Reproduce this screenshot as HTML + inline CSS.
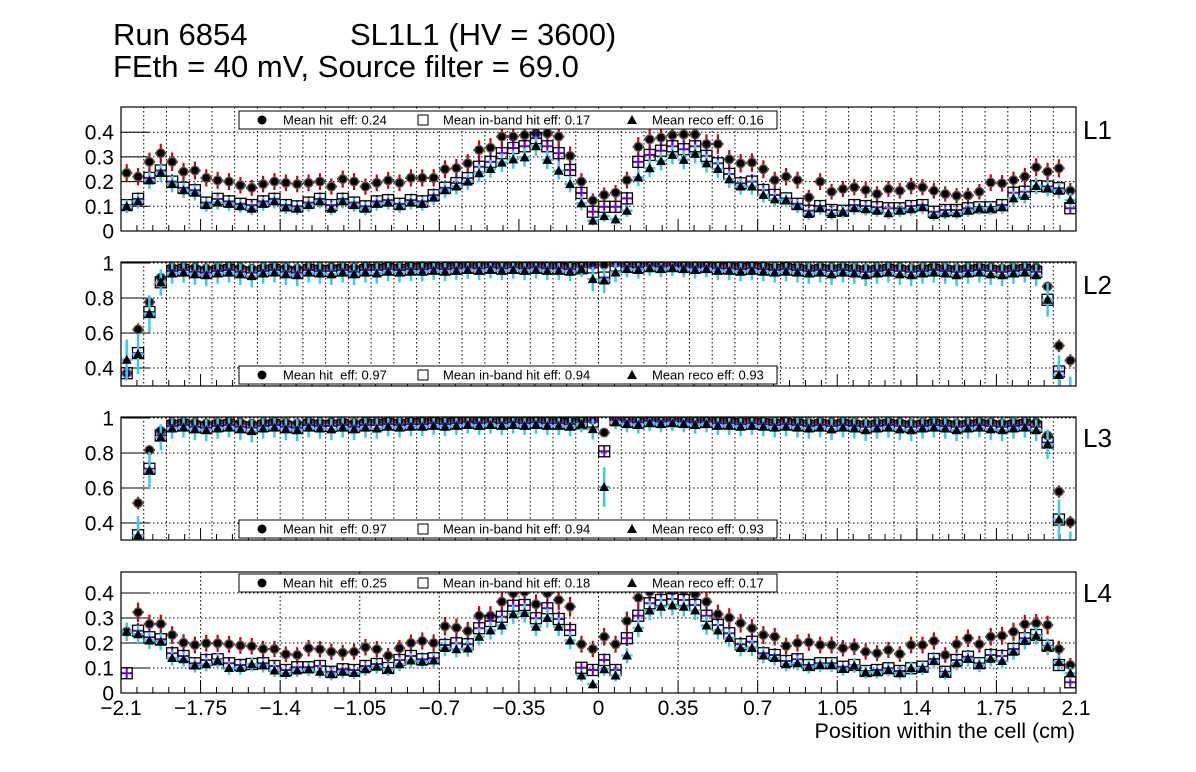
<!DOCTYPE html>
<html><head><meta charset="utf-8"><style>
body{margin:0;background:#fff}
svg{display:block;font-family:"Liberation Sans",Arial,sans-serif}
text{white-space:pre}
</style></head><body>
<svg id="c" width="1196" height="772" viewBox="0 0 1196 772">
<text x="113" y="45" font-size="31">Run 6854</text>
<text x="350" y="45" font-size="31">SL1L1 (HV = 3600)</text>
<text x="113" y="77" font-size="31">FEth = 40 mV, Source filter = 69.0</text>
<text x="1075" y="738" font-size="21.5" text-anchor="end">Position within the cell (cm)</text>
</svg>
<script>
const xTickLabels=["\u22122.1","\u22121.75","\u22121.4","\u22121.05","\u22120.7","\u22120.35","0","0.35","0.7","1.05","1.4","1.75","2.1"];
const xTickValues=[-2.1,-1.75,-1.4,-1.05,-0.7,-0.35,0,0.35,0.7,1.05,1.4,1.75,2.1];
const layerNames=["L1","L2","L3","L4"];
const meanHit=["0.24","0.97","0.97","0.25"];
const meanInband=["0.17","0.94","0.94","0.18"];
const meanReco=["0.16","0.93","0.93","0.17"];
const p1Hit=[.235,.22,.28,.315,.28,.24,.245,.215,.205,.2,.185,.175,.19,.2,.195,.19,.195,.2,.18,.21,.2,.18,.195,.205,.195,.215,.215,.215,.25,.255,.274,.328,.337,.382,.382,.388,.395,.395,.382,.304,.2,.123,.146,.155,.206,.341,.371,.378,.388,.391,.391,.352,.352,.29,.274,.277,.25,.206,.22,.206,.136,.2,.159,.17,.177,.166,.15,.17,.163,.182,.177,.163,.15,.143,.144,.159,.196,.193,.206,.22,.258,.24,.254,.163];
const p1Inband=[.105,.13,.215,.245,.2,.175,.165,.115,.13,.12,.11,.105,.12,.13,.105,.1,.115,.13,.105,.13,.115,.1,.12,.125,.11,.125,.12,.145,.175,.194,.214,.26,.28,.315,.336,.343,.376,.343,.315,.247,.154,.078,.098,.098,.132,.28,.308,.325,.343,.331,.343,.304,.274,.231,.193,.2,.166,.146,.132,.11,.082,.101,.085,.082,.105,.101,.096,.092,.092,.101,.105,.078,.085,.085,.092,.096,.096,.105,.155,.159,.182,.18,.173,.092];
const p1Reco=[.1,.12,.205,.235,.19,.165,.155,.105,.115,.11,.1,.09,.11,.12,.095,.09,.105,.12,.09,.12,.105,.09,.11,.115,.1,.115,.11,.135,.165,.18,.2,.234,.251,.277,.29,.298,.343,.288,.244,.19,.112,.042,.06,.047,.082,.217,.254,.283,.308,.288,.312,.274,.251,.209,.18,.18,.146,.128,.125,.1,.069,.092,.069,.078,.092,.088,.082,.072,.082,.088,.096,.065,.072,.072,.082,.092,.092,.096,.132,.142,.182,.173,.163,.125];
const p2Hit=[.37,.62,.777,.917,.975,.98,.975,.97,.975,.98,.975,.968,.975,.98,.975,.97,.98,.975,.978,.98,.975,.982,.98,.985,.98,.985,.985,.99,.985,.99,.99,.99,.995,.99,.995,.99,.995,.99,.99,.985,.99,.99,.99,1.0,.995,.995,1.0,.995,1.0,.995,.99,.995,.99,.99,.985,.99,.985,.98,.985,.98,.975,.98,.975,.98,.975,.97,.975,.98,.975,.97,.975,.98,.975,.97,.975,.98,.975,.97,.975,.98,.975,.866,.527,.443];
const p2Inband=[.37,.485,.72,.89,.955,.96,.95,.945,.955,.96,.95,.945,.955,.96,.95,.945,.96,.955,.955,.96,.95,.96,.96,.965,.96,.965,.965,.97,.965,.97,.975,.97,.975,.97,.975,.97,.975,.97,.97,.965,.97,.975,.917,.985,.98,.975,.985,.98,.985,.98,.975,.98,.97,.97,.965,.97,.965,.96,.965,.96,.955,.96,.955,.96,.955,.95,.955,.96,.955,.95,.955,.96,.955,.95,.955,.96,.955,.95,.955,.96,.95,.79,.38,.25];
const p2Reco=[.447,.48,.71,.889,.94,.945,.935,.93,.94,.945,.935,.925,.94,.945,.935,.93,.945,.94,.935,.945,.935,.945,.94,.95,.945,.95,.95,.955,.95,.955,.96,.955,.96,.955,.96,.955,.96,.955,.955,.95,.965,.908,.9,.946,.965,.96,.97,.965,.97,.965,.96,.965,.955,.955,.95,.955,.95,.945,.95,.945,.94,.945,.935,.945,.94,.93,.94,.945,.935,.93,.94,.945,.94,.93,.94,.945,.935,.93,.94,.945,.93,.79,.36,.25];
const p3Hit=[.25,.514,.817,.927,.975,.98,.975,.97,.975,.98,.975,.968,.975,.98,.975,.97,.98,.975,.978,.98,.975,.982,.98,.985,.98,.985,.985,.99,.985,.99,.99,.99,.995,.99,.995,.99,.995,.99,.99,.985,.99,.99,.917,1.0,.995,.995,1.0,.995,1.0,.995,.99,.995,.99,.99,.985,.99,.985,.98,.985,.98,.975,.98,.975,.98,.975,.97,.975,.98,.975,.97,.975,.98,.975,.97,.975,.98,.975,.97,.975,.98,.975,.9,.58,.405];
const p3Inband=[.2,.33,.71,.9,.955,.96,.95,.945,.955,.96,.95,.945,.955,.96,.95,.945,.96,.955,.955,.96,.95,.96,.96,.965,.96,.965,.965,.97,.965,.97,.975,.97,.975,.97,.975,.97,.975,.97,.97,.965,.97,.98,.81,.99,.98,.975,.985,.98,.985,.98,.975,.98,.97,.97,.965,.97,.965,.96,.965,.96,.955,.96,.955,.96,.955,.95,.955,.96,.955,.95,.955,.96,.955,.95,.955,.96,.955,.95,.955,.96,.95,.86,.42,.25];
const p3Reco=[.2,.33,.70,.89,.94,.945,.935,.93,.94,.945,.935,.925,.94,.945,.935,.93,.945,.94,.935,.945,.935,.945,.94,.95,.945,.95,.95,.955,.95,.955,.96,.955,.96,.955,.96,.955,.96,.955,.955,.95,.965,.937,.606,.975,.965,.96,.97,.965,.97,.965,.96,.965,.955,.955,.95,.955,.95,.945,.95,.945,.94,.945,.935,.945,.94,.93,.94,.945,.935,.93,.94,.945,.94,.93,.94,.945,.935,.93,.94,.945,.93,.85,.42,.25];
const p4Hit=[.245,.323,.276,.276,.232,.201,.192,.199,.199,.195,.19,.187,.176,.176,.155,.152,.179,.175,.165,.161,.165,.183,.175,.149,.179,.2,.208,.2,.267,.261,.248,.309,.309,.365,.399,.405,.355,.399,.372,.345,.195,.176,.225,.195,.288,.381,.405,.417,.41,.41,.395,.365,.315,.301,.279,.259,.232,.225,.188,.2,.203,.192,.192,.179,.185,.165,.159,.172,.156,.192,.192,.208,.152,.195,.219,.195,.225,.229,.245,.275,.279,.272,.176,.112];
const p4Inband=[.079,.249,.223,.215,.159,.148,.119,.132,.135,.119,.112,.116,.119,.108,.092,.103,.103,.108,.085,.095,.092,.108,.116,.1,.132,.148,.135,.139,.192,.199,.195,.259,.288,.305,.349,.352,.299,.339,.296,.252,.101,.092,.132,.092,.219,.309,.359,.372,.376,.372,.352,.309,.272,.239,.195,.205,.159,.152,.128,.135,.112,.119,.119,.105,.112,.088,.092,.099,.088,.099,.105,.136,.085,.132,.145,.119,.152,.148,.176,.219,.232,.189,.112,.043];
const p4Reco=[.245,.235,.21,.205,.14,.135,.11,.115,.13,.1,.1,.115,.11,.09,.08,.09,.095,.085,.075,.085,.08,.095,.105,.095,.115,.13,.125,.13,.18,.175,.178,.225,.25,.27,.315,.32,.265,.3,.265,.21,.07,.035,.095,.07,.15,.26,.33,.345,.35,.345,.33,.27,.25,.22,.18,.18,.15,.14,.115,.119,.105,.112,.112,.096,.109,.083,.083,.092,.079,.099,.099,.128,.079,.119,.137,.112,.137,.128,.165,.208,.229,.185,.123,.079];
const hitSeries=[p1Hit,p2Hit,p3Hit,p4Hit];
const inbandSeries=[p1Inband,p2Inband,p3Inband,p4Inband];
const recoSeries=[p1Reco,p2Reco,p3Reco,p4Reco];
const yTickLabels=[["0","0.1","0.2","0.3","0.4"],["0.4","0.6","0.8","1"],["0.4","0.6","0.8","1"],["0","0.1","0.2","0.3","0.4"]];
const yTickValues=[[0,0.1,0.2,0.3,0.4],[0.4,0.6,0.8,1],[0.4,0.6,0.8,1],[0,0.1,0.2,0.3,0.4]];

const NS="http://www.w3.org/2000/svg";
const svg=document.getElementById('c');
const X0=121,X1=1076,XMIN=-2.1,XMAX=2.1,NB=84,BW=(XMAX-XMIN)/NB;
function xPix(v){return X0+(v-XMIN)/(XMAX-XMIN)*(X1-X0);}
const panels=[
 {top:107,bot:231,ymin:0,ymax:0.502,grid:0.1,leg:111,lab:139,k:[0.07,0.06,0.07]},
 {top:262,bot:386,ymin:0.297,ymax:1.006,grid:0.1,leg:366,lab:294,k:[0.06,0.07,0.22]},
 {top:417,bot:540,ymin:0.303,ymax:1.006,grid:0.1,leg:520,lab:447,k:[0.06,0.07,0.22]},
 {top:572,bot:693,ymin:0,ymax:0.484,grid:0.35,leg:574,lab:602,k:[0.07,0.06,0.07]}
];
function mk(tag,attrs,parent){const e=document.createElementNS(NS,tag);for(const a in attrs)e.setAttribute(a,attrs[a]);(parent||svg).appendChild(e);return e;}
const defs=mk('defs',{});
panels.forEach((P,pi)=>{
 const yPix=v=>P.bot-(v-P.ymin)/(P.ymax-P.ymin)*(P.bot-P.top);
 const cp=mk('clipPath',{id:'cp'+pi},defs);
 mk('rect',{x:X0,y:P.top,width:X1-X0,height:P.bot-P.top},cp);
 const g=mk('g',{});
 
 
 const gg=mk('g',{stroke:'#000','stroke-width':1,'stroke-dasharray':'1.5,2.5'},g);
 
 
 const start=P.grid===0.1?-2.0:-1.75;
 for(let v=start;v<2.09;v+=P.grid){const x=xPix(v);mk('line',{x1:x,x2:x,y1:P.top,y2:P.bot},gg);}
 yTickValues[pi].forEach(v=>{const y=yPix(v);if(y>P.top+1&&y<P.bot-1)mk('line',{x1:X0,x2:X1,y1:y,y2:y},gg);});
 yTickValues[pi].forEach((v,j)=>{
  const y=yPix(v);
  mk('line',{x1:X0,x2:X0+28,y1:y,y2:y,stroke:'#000','stroke-width':1},g);
  const t=mk('text',{x:114,y:y+7.5,'font-size':21,'text-anchor':'end'},g);
  t.textContent=yTickLabels[pi][j];
  
  
 });
 for(let v=-2.1;v<=2.101;v+=0.07){const x=xPix(v);const maj=Math.abs(Math.round(v/0.35)*0.35-v)<1e-6;mk('line',{x1:x,x2:x,y1:P.bot,y2:P.bot-(maj?12:6),stroke:'#000'},g);}
 const mg=mk('g',{'clip-path':'url(#cp'+pi+')'},g);
 const H=hitSeries[pi],I=inbandSeries[pi],R=recoSeries[pi];
 function errs(arr,k,col,w){
  const eg=mk('g',{stroke:col,'stroke-width':w},mg);
  
  
  arr.forEach((p,i)=>{const c=XMIN+BW*(i+0.5);const e=k*Math.sqrt(Math.max(p*(1-p),0.003))+0.006;
   const x=xPix(c),y=yPix(p);
   mk('line',{x1:x,x2:x,y1:yPix(Math.max(p-e,0)),y2:yPix(Math.min(p+e,1))},eg);
   mk('line',{x1:xPix(c-BW/2),x2:xPix(c+BW/2),y1:y,y2:y},eg);});
 }
 errs(H,P.k[0],'#d40000',2.2);
 const hg=mk('g',{},mg);
 
 
 H.forEach((p,i)=>{const c=mk('circle',{cx:xPix(XMIN+BW*(i+0.5)),cy:yPix(p),r:4.3,fill:'#000',stroke:'#555','stroke-width':1.4},hg);
  
  });
 errs(I,P.k[1],'#6a00cc',2);
 const ig=mk('g',{},mg);
 
 
 I.forEach((p,i)=>{const x=xPix(XMIN+BW*(i+0.5)),y=yPix(p);const r=mk('rect',{x:x-5.5,y:y-5.5,width:11,height:11,fill:'none',stroke:'#000','stroke-width':1.3},ig);
  
  });
 errs(R,P.k[2],'#33ccf5',2.5);
 const rg=mk('g',{},mg);
 
 
 R.forEach((p,i)=>{const x=xPix(XMIN+BW*(i+0.5)),y=yPix(p);const t=mk('polygon',{points:`${x-5},${y+4} ${x+5},${y+4} ${x},${y-5}`,fill:'#000'},rg);
  
  });
 const fr=mk('rect',{x:X0,y:P.top,width:X1-X0,height:P.bot-P.top,fill:'none',stroke:'#000','stroke-width':1.2},g);
 
 
 const lg=mk('g',{},g);
 
 
 const ly=P.leg;
 mk('rect',{x:239,y:ly,width:538,height:18,fill:'#fff',stroke:'#000','stroke-width':1},lg);
 mk('circle',{cx:262,cy:ly+9,r:4.5,fill:'#000'},lg);
 mk('rect',{x:418,y:ly+4,width:10,height:10,fill:'none',stroke:'#000'},lg);
 mk('polygon',{points:`627,${ly+13} 637,${ly+13} 632,${ly+4}`,fill:'#000'},lg);
 [[283,"Mean hit  eff: "+meanHit[pi]],[443,"Mean in-band hit eff: "+meanInband[pi]],[652,"Mean reco eff: "+meanReco[pi]]].forEach(a=>{
  const t=mk('text',{x:a[0],y:ly+13.5,'font-size':13},lg);t.textContent=a[1];
  
  });
 const L=mk('text',{x:1083,y:P.lab,'font-size':26},g);L.textContent=layerNames[pi];
 
 
 if(pi===3){xTickValues.forEach((v,j)=>{const t=mk('text',{x:xPix(v),y:715,'font-size':21,'text-anchor':'middle'},g);t.textContent=xTickLabels[j];
  
  });}
});
</script>
</body></html>
